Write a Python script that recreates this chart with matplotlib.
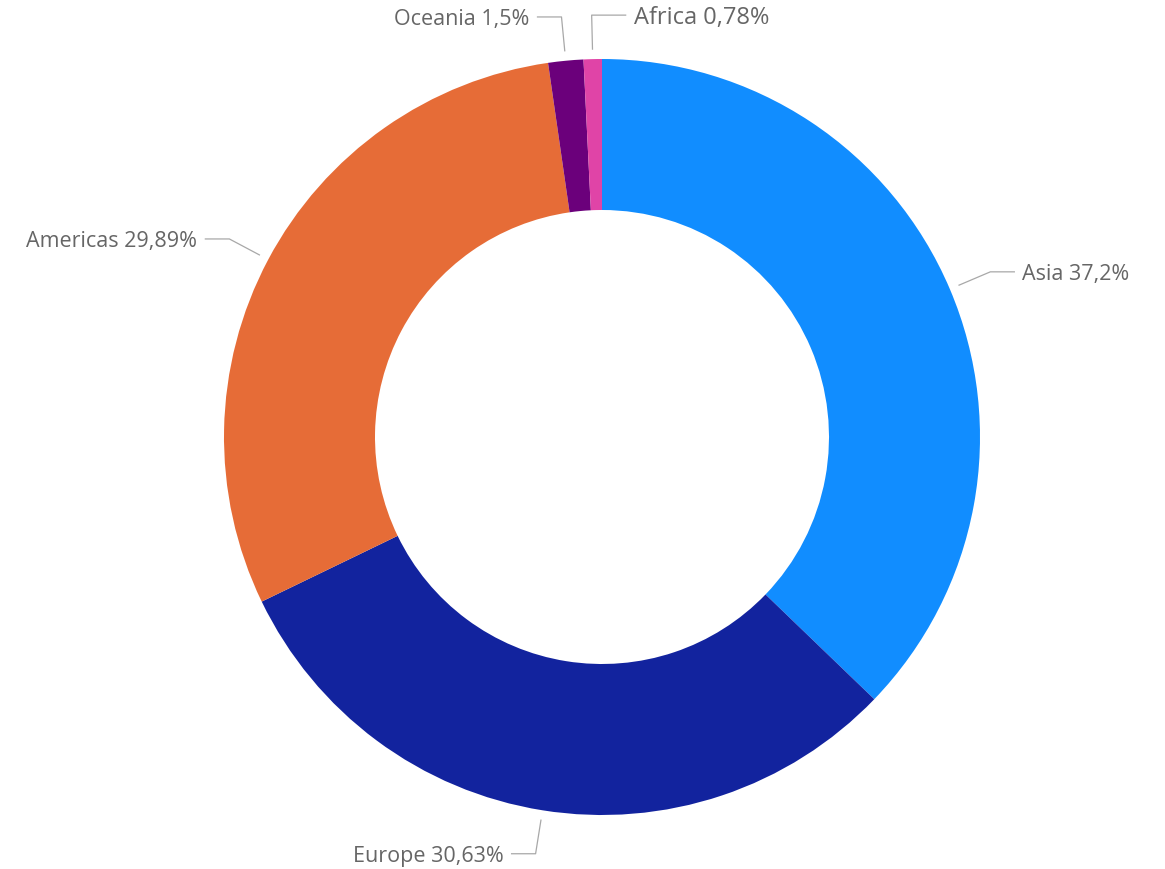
import matplotlib.pyplot as plt
import numpy as np

regions = ["Asia", "Europe", "Americas", "Oceania", "Africa"]
shares = [37.2, 30.63, 29.89, 1.5, 0.78]
colors = ["#118DFF", "#12239E", "#E66C37", "#6B007B", "#E044A7"]

W, H = 1165, 869
cx, cy = 602, H - 437
R = 378
ring = 151

plt.rcParams["font.family"] = ["Open Sans", "DejaVu Sans"]

fig = plt.figure(figsize=(W / 100, H / 100), dpi=100)
ax = fig.add_axes([0, 0, 1, 1])
ax.axis("off")

wedges, _ = ax.pie(
    shares,
    colors=colors,
    startangle=90,
    counterclock=False,
    center=(cx, cy),
    radius=R,
    wedgeprops=dict(width=ring, linewidth=0),
)
ax.set_xlim(0, W)
ax.set_ylim(0, H)
ax.set_aspect("equal")

for wedge, name, value in zip(wedges, regions, shares):
    mid = np.deg2rad((wedge.theta1 + wedge.theta2) / 2)
    x0 = cx + (R + 10) * np.cos(mid)
    y0 = cy + (R + 10) * np.sin(mid)
    x1 = cx + (R + 44) * np.cos(mid)
    y1 = cy + (R + 44) * np.sin(mid)
    side = 1 if np.cos(mid) >= 0 else -1
    seg = 24
    size = 15.5
    if name == "Africa":
        side = 1
        seg = 34
        size = 17
    x2 = x1 + side * seg
    ax.plot([x0, x1, x2], [y0, y1, y1], color="#A8A8A8", linewidth=0.9)
    label = f"{name} {str(value).replace('.', ',')}%"
    ax.text(
        x2 + side * 8,
        y1 - 3,
        label,
        ha="left" if side > 0 else "right",
        va="center",
        fontsize=size,
        color="#666666",
    )

fig.savefig("out.png", dpi=100)
